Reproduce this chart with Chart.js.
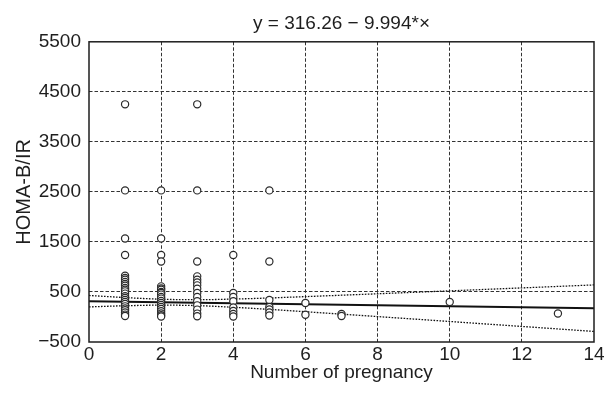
<!DOCTYPE html>
<html>
<head>
<meta charset="utf-8">
<script src="https://cdn.jsdelivr.net/npm/chart.js@4/dist/chart.umd.min.js"></script>
<style>
  body { margin: 0; background: #fff; }
  canvas { display: block; }
</style>
</head>
<body>
<canvas id="chart" width="607" height="396"></canvas>
<script>
const pregnancies = [
  1,1,1,1,1,1,1,1,1,1,1,1,1,1,1,1,1,1,1,1,1,1,1,1,1,
  2,2,2,2,2,2,2,2,2,2,2,2,2,2,2,2,2,2,2,2,2,
  3,3,3,3,3,3,3,3,3,3,3,3,3,3,3,
  4,4,4,4,4,4,4,4,
  5,5,5,5,5,5,5,
  6,6,
  7,7,
  10,
  13
];
const homaBIR = [
  4250,2530,1570,1240,826,780,746,700,660,626,580,546,512,467,413,381,340,301,260,213,170,134,90,48,20,
  2530,1570,1240,1110,612,570,546,500,480,447,400,367,320,281,240,201,160,114,70,34,10,
  4250,2530,1110,812,746,690,632,566,480,401,313,233,148,68,15,
  1240,480,400,313,190,120,60,10,
  2530,1110,340,200,150,90,30,
  280,45,
  60,20,
  300,
  70
];

// fitted line from the title: y = 316.26 - 9.994*x
const fitX = [0, 14];
const fitY = [316.26, 176.34];

// dotted confidence band, read at each integer x
const bandX = [0,1,2,3,4,5,6,7,8,9,10,11,12,13,14];
const bandUpper = [430,388,355,345,358,380,407,435,464,493,522,552,581,611,641];
const bandLower = [202,224,237,227,194,152,105,57,8,-41,-90,-140,-189,-239,-289];

const xTicks = [0,2,4,6,8,10,12,14];
const yTicks = [-500,500,1500,2500,3500,4500,5500];

const FONT = '"Liberation Sans", Arial, sans-serif';
const INK = '#1e1e1e';

function toXY(xs, ys) {
  return xs.map((x, i) => ({ x: x, y: ys[i] }));
}

// box around the plot area (top/right edges aren't drawn by the scales)
const framePlugin = {
  id: 'frame',
  afterDatasetsDraw(chart) {
    const a = chart.chartArea;
    const ctx = chart.ctx;
    ctx.save();
    ctx.strokeStyle = INK;
    ctx.lineWidth = 1.5;
    ctx.strokeRect(a.left, a.top, a.right - a.left, a.bottom - a.top);
    ctx.restore();
  }
};

function gridColor(ctx) {
  const n = ctx.scale.ticks.length;
  if (ctx.index === 0 || ctx.index === n - 1) return 'rgba(0,0,0,0)';
  return '#333';
}

new Chart(document.getElementById('chart'), {
  type: 'scatter',
  data: {
    datasets: [
      {
        label: 'HOMA-B/IR',
        data: toXY(pregnancies, homaBIR),
        pointRadius: 3.6,
        pointBorderWidth: 1.2,
        pointBorderColor: '#2a2a2a',
        pointBackgroundColor: '#fff',
        order: 0
      },
      {
        label: 'fit',
        data: toXY(fitX, fitY),
        showLine: true,
        borderColor: '#111',
        borderWidth: 2,
        pointRadius: 0,
        order: 1
      },
      {
        label: 'upper',
        data: toXY(bandX, bandUpper),
        showLine: true,
        borderColor: '#111',
        borderWidth: 1.3,
        borderDash: [1.6, 1.4],
        pointRadius: 0,
        cubicInterpolationMode: 'monotone',
        order: 2
      },
      {
        label: 'lower',
        data: toXY(bandX, bandLower),
        showLine: true,
        borderColor: '#111',
        borderWidth: 1.3,
        borderDash: [1.6, 1.4],
        pointRadius: 0,
        cubicInterpolationMode: 'monotone',
        order: 3
      }
    ]
  },
  options: {
    responsive: false,
    animation: false,
    layout: { padding: { left: 0, right: 13, top: 0, bottom: 0 } },
    plugins: {
      legend: { display: false },
      tooltip: { enabled: false },
      title: {
        display: true,
        fullSize: false,
        text: 'y = 316.26 \u2212 9.994*\u00d7',
        color: INK,
        font: { family: FONT, size: 19, weight: 'normal' },
        padding: { top: 12, bottom: 7 }
      }
    },
    scales: {
      x: {
        type: 'linear',
        min: 0,
        max: 14,
        afterFit(scale) { scale.height = 54; },
        afterBuildTicks(scale) { scale.ticks = xTicks.map(v => ({ value: v })); },
        ticks: {
          color: INK,
          font: { family: FONT, size: 19 },
          padding: 1,
          maxRotation: 0
        },
        grid: { color: gridColor, lineWidth: 1, drawTicks: false },
        border: { display: false, dash: [3.5, 2] },
        title: {
          display: true,
          text: 'Number of pregnancy',
          color: INK,
          font: { family: FONT, size: 19 },
          padding: { top: 0, bottom: 12 }
        }
      },
      y: {
        type: 'linear',
        min: -500,
        max: 5500,
        afterFit(scale) { scale.width = 89; },
        afterBuildTicks(scale) { scale.ticks = yTicks.map(v => ({ value: v })); },
        ticks: {
          color: INK,
          font: { family: FONT, size: 19 },
          padding: 8,
          callback: v => String(v).replace('-', '\u2212')
        },
        grid: { color: gridColor, lineWidth: 1, drawTicks: false },
        border: { display: false, dash: [3.5, 2] },
        title: {
          display: true,
          text: 'HOMA-B/IR',
          color: INK,
          font: { family: FONT, size: 20 },
          padding: { top: 12, bottom: 0 }
        }
      }
    }
  },
  plugins: [framePlugin]
});
</script>
</body>
</html>
